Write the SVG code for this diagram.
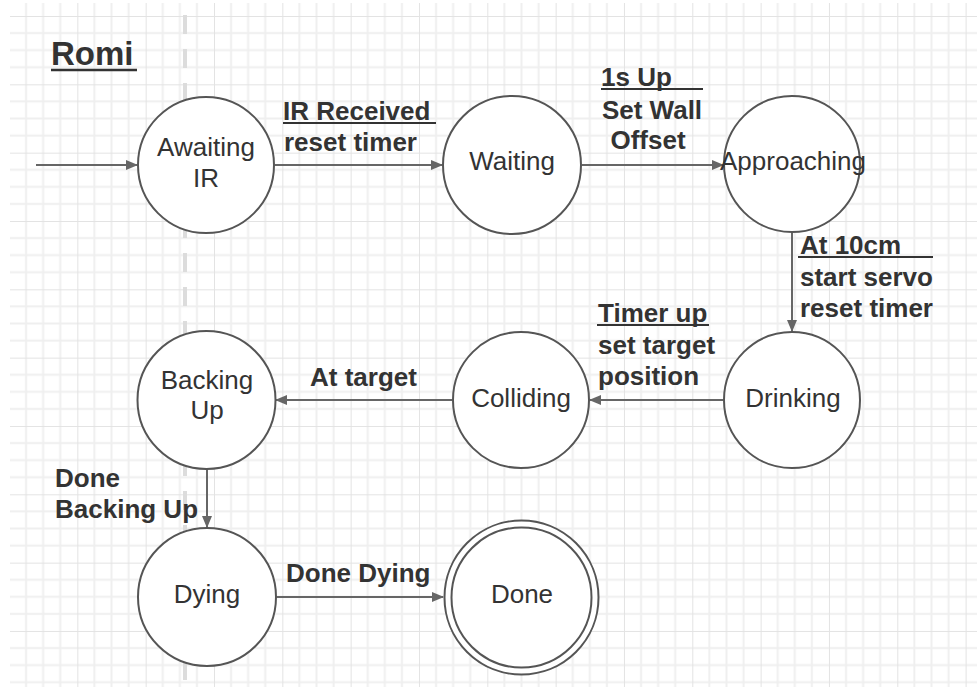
<svg xmlns="http://www.w3.org/2000/svg" width="977" height="687" viewBox="0 0 977 687">
  <defs>
    <pattern id="grid" x="9" y="16" width="68.33" height="68.33" patternUnits="userSpaceOnUse">
      <rect x="16.08" y="0" width="2" height="68.33" fill="#efefef"/>
      <rect x="33.17" y="0" width="2" height="68.33" fill="#efefef"/>
      <rect x="50.25" y="0" width="2" height="68.33" fill="#efefef"/>
      <rect x="0" y="16.08" width="68.33" height="2" fill="#efefef"/>
      <rect x="0" y="33.17" width="68.33" height="2" fill="#efefef"/>
      <rect x="0" y="50.25" width="68.33" height="2" fill="#efefef"/>
      <rect x="-1" y="0" width="2" height="68.33" fill="#e3e3e3"/>
      <rect x="0" y="-1" width="68.33" height="2" fill="#e3e3e3"/>
    </pattern>
    <marker id="arrow" viewBox="0 0 12 10" refX="11" refY="5" markerWidth="12" markerHeight="10" markerUnits="userSpaceOnUse" orient="auto">
      <path d="M0,0 L12,5 L0,10 Z" fill="#666"/>
    </marker>
  </defs>
  <style>
    .state { fill: #fff; stroke: #555; stroke-width: 2; }
    .name { font-family: "Liberation Sans", Arial, sans-serif; font-size: 26px; fill: #333; text-anchor: middle; }
    .label { font-family: "Liberation Sans", Arial, sans-serif; font-size: 26px; font-weight: bold; fill: #333; }
    .uline { stroke: #333; stroke-width: 2; }
    .edge { stroke: #666; stroke-width: 2; fill: none; marker-end: url(#arrow); }
  </style>

  <!-- canvas and grid -->
  <rect width="977" height="687" fill="#fff"/>
  <rect x="10" y="3" width="967" height="684" fill="url(#grid)"/>
  <line x1="185" y1="3" x2="185" y2="687" stroke="#dcdcdc" stroke-width="4" stroke-dasharray="19 15" stroke-dashoffset="-12"/>

  <!-- title -->
  <g id="title">
    <text x="51" y="65" font-family="Liberation Sans, Arial, sans-serif" font-size="33" font-weight="bold" fill="#333">Romi</text>
    <line x1="51" y1="70" x2="137" y2="70" stroke="#333" stroke-width="2.5"/>
  </g>

  <!-- transitions -->
  <g id="connectors">
    <line class="edge" x1="36" y1="165" x2="137" y2="165"/>
    <line class="edge" x1="275" y1="165" x2="442" y2="165"/>
    <line class="edge" x1="582" y1="165" x2="723" y2="165"/>
    <line class="edge" x1="792" y1="232" x2="792" y2="331"/>
    <line class="edge" x1="723" y1="400" x2="590" y2="400"/>
    <line class="edge" x1="452" y1="400" x2="276" y2="400"/>
    <line class="edge" x1="207" y1="469" x2="207" y2="527"/>
    <line class="edge" x1="276" y1="597" x2="443" y2="597"/>
  </g>

  <!-- transition labels -->
  <g id="label-ir-received">
    <text class="label" x="283" y="120">IR Received</text>
    <line class="uline" x1="283" y1="123" x2="436" y2="123"/>
    <text class="label" x="284" y="151">reset timer</text>
  </g>
  <g id="label-1s-up">
    <text class="label" x="601" y="86">1s Up</text>
    <line class="uline" x1="601" y1="89" x2="703" y2="89"/>
    <text class="label" x="652" y="119" text-anchor="middle">Set Wall</text>
    <text class="label" x="648" y="149" text-anchor="middle">Offset</text>
  </g>
  <g id="label-at-10cm">
    <text class="label" x="800" y="254">At 10cm</text>
    <line class="uline" x1="798" y1="257" x2="933" y2="257"/>
    <text class="label" x="800" y="286">start servo</text>
    <text class="label" x="800" y="317">reset timer</text>
  </g>
  <g id="label-timer-up">
    <text class="label" x="598" y="322">Timer up</text>
    <line class="uline" x1="597" y1="325" x2="709" y2="325"/>
    <text class="label" x="598" y="354">set target</text>
    <text class="label" x="598" y="385">position</text>
  </g>
  <g id="label-at-target">
    <text class="label" x="310" y="386">At target</text>
  </g>
  <g id="label-done-backing-up">
    <text class="label" x="55" y="487">Done</text>
    <text class="label" x="55" y="518">Backing Up</text>
  </g>
  <g id="label-done-dying">
    <text class="label" x="286" y="582">Done Dying</text>
  </g>

  <!-- states -->
  <g id="awaiting-ir">
    <circle class="state" cx="206" cy="165" r="68"/>
    <text class="name" x="206" y="156">Awaiting</text>
    <text class="name" x="206" y="187">IR</text>
  </g>
  <g id="waiting">
    <circle class="state" cx="512" cy="165" r="69"/>
    <text class="name" x="512" y="170">Waiting</text>
  </g>
  <g id="approaching">
    <circle class="state" cx="792" cy="164" r="68"/>
    <text class="name" x="793" y="170">Approaching</text>
  </g>
  <g id="drinking">
    <circle class="state" cx="792" cy="400" r="68"/>
    <text class="name" x="793" y="407">Drinking</text>
  </g>
  <g id="colliding">
    <circle class="state" cx="521" cy="400" r="68"/>
    <text class="name" x="521" y="407">Colliding</text>
  </g>
  <g id="backing-up">
    <circle class="state" cx="206.5" cy="400" r="69"/>
    <text class="name" x="207" y="389">Backing</text>
    <text class="name" x="207" y="419">Up</text>
  </g>
  <g id="dying">
    <circle class="state" cx="207" cy="597" r="69"/>
    <text class="name" x="207" y="603">Dying</text>
  </g>
  <g id="done">
    <circle class="state" cx="521.5" cy="597.5" r="77"/>
    <circle class="state" cx="521.5" cy="597.5" r="70"/>
    <text class="name" x="522" y="603">Done</text>
  </g>
</svg>
